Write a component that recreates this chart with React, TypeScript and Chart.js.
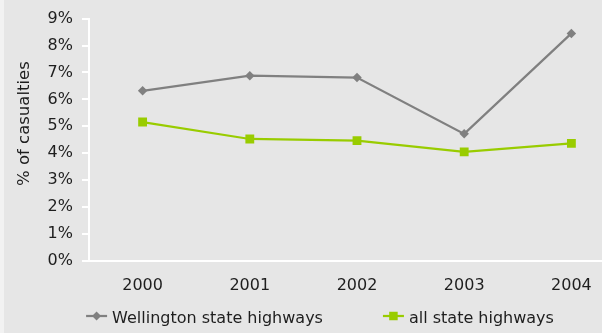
import React, { useEffect, useRef } from 'react';
import { Chart, registerables } from 'chart.js';

Chart.register(...registerables);

const categories = ['2000', '2001', '2002', '2003', '2004'];
const wellington = [6.32, 6.88, 6.81, 4.72, 8.45];
const allHighways = [5.16, 4.53, 4.47, 4.05, 4.37];
const seriesLabels = ['Wellington state highways', 'all state highways'];
const yTitle = '% of casualties';
const yMin = 0;
const yMax = 9;
const yStep = 1;

const FONT = '"DejaVu Sans", Verdana, sans-serif';
const TEXT = '#1e1e1e';
const GRAY = '#808080';
const GREEN = '#99cc00';

function drawMarker(ctx: CanvasRenderingContext2D, style: string, x: number, y: number, color: string) {
  ctx.fillStyle = color;
  ctx.beginPath();
  if (style === 'rectRot') {
    const r = 4.5;
    ctx.moveTo(x - r, y);
    ctx.lineTo(x, y - r);
    ctx.lineTo(x + r, y);
    ctx.lineTo(x, y + r);
    ctx.closePath();
  } else {
    const s = 4.25;
    ctx.rect(x - s, y - s, 2 * s, 2 * s);
  }
  ctx.fill();
}

const decorPlugin = {
  id: 'decor',
  afterDraw(chart: any) {
    const ctx: CanvasRenderingContext2D = chart.ctx;
    const area = chart.chartArea;
    ctx.save();
    // y axis title
    ctx.font = `16.5px ${FONT}`;
    ctx.fillStyle = TEXT;
    ctx.textAlign = 'center';
    ctx.textBaseline = 'middle';
    ctx.translate(area.left - 64, area.top + 105);
    ctx.rotate(-Math.PI / 2);
    ctx.fillText(yTitle, 0, 0);
    ctx.restore();

    // legend
    ctx.save();
    ctx.font = `16px ${FONT}`;
    const markerW = 21;
    const gap = 5;
    const itemGap = 60;
    const items = chart.data.datasets.map((ds: any) => ({
      ds,
      tw: ctx.measureText(ds.label).width,
    }));
    const total =
      items.reduce((a: number, it: any) => a + markerW + gap + it.tw, 0) + itemGap * (items.length - 1);
    let x = (chart.width - total) / 2;
    const y = chart.height - 15;
    items.forEach((it: any) => {
      const ds = it.ds;
      ctx.strokeStyle = ds.borderColor;
      ctx.lineWidth = ds.borderWidth;
      ctx.beginPath();
      ctx.moveTo(x, y - 2);
      ctx.lineTo(x + markerW, y - 2);
      ctx.stroke();
      drawMarker(ctx, ds.pointStyle, x + markerW / 2, y - 2, ds.borderColor);
      ctx.fillStyle = TEXT;
      ctx.textAlign = 'left';
      ctx.textBaseline = 'middle';
      ctx.fillText(ds.label, x + markerW + gap, y + 1);
      x += markerW + gap + it.tw + itemGap;
    });
    ctx.restore();
  },
};

export default function App() {
  const ref = useRef<HTMLCanvasElement>(null);
  useEffect(() => {
    document.body.style.margin = '0';
    document.body.style.overflow = 'hidden';
    const chart = new Chart(ref.current as HTMLCanvasElement, {
      type: 'line',
      data: {
        labels: categories,
        datasets: [
          {
            label: seriesLabels[0],
            data: wellington,
            borderColor: GRAY,
            backgroundColor: GRAY,
            borderWidth: 2.25,
            pointStyle: 'rectRot',
            pointRadius: 4.75,
            pointBorderWidth: 0,
            tension: 0,
          },
          {
            label: seriesLabels[1],
            data: allHighways,
            borderColor: GREEN,
            backgroundColor: GREEN,
            borderWidth: 2.25,
            pointStyle: 'rect',
            pointRadius: 6.25,
            pointBorderWidth: 0,
            tension: 0,
          },
        ],
      },
      options: {
        responsive: false,
        animation: false,
        layout: { padding: { top: 16, right: 15, bottom: 0, left: 0 } },
        plugins: { legend: { display: false }, tooltip: { enabled: false } },
        scales: {
          x: {
            offset: true,
            grid: { display: false, drawTicks: false },
            border: { display: true, color: '#ffffff', width: 2 },
            ticks: { font: { family: FONT, size: 16 }, color: TEXT, padding: 15 },
            afterFit: (s: any) => {
              s.height = 72;
            },
          },
          y: {
            min: yMin,
            max: yMax,
            ticks: {
              stepSize: yStep,
              callback: (v: any) => `${v}%`,
              font: { family: FONT, size: 16 },
              color: TEXT,
              padding: 9,
            },
            grid: { drawOnChartArea: false, drawTicks: true, tickLength: 7, color: '#ffffff', lineWidth: 2 },
            border: { color: '#ffffff', width: 2 },
            afterFit: (s: any) => {
              s.width = 89;
            },
          },
        },
      },
      plugins: [decorPlugin],
    });
    return () => chart.destroy();
  }, []);
  return (
    <div style={{ position: 'relative', width: 602, height: 333, overflow: 'hidden', background: '#e6e6e6' }}>
      <canvas ref={ref} width={640} height={333} style={{ display: 'block' }} />
      <div style={{ position: 'absolute', left: 0, top: 0, width: 4, height: 333, background: '#f2f2f2' }} />
    </div>
  );
}
